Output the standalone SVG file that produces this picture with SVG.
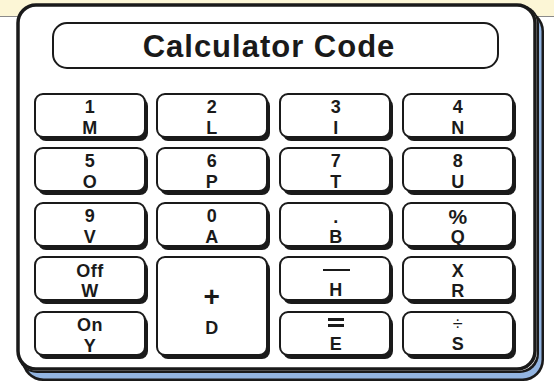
<svg xmlns="http://www.w3.org/2000/svg" width="554" height="383" viewBox="0 0 554 383">
<style>
.ks{fill:#1a1a1a}
.k{fill:#fff;stroke:#1a1a1a;stroke-width:2}
.t{font-family:"Liberation Sans",Arial,sans-serif;font-weight:bold;font-size:18px;letter-spacing:0.5px;fill:#1a1a1a;text-anchor:middle}
.title{font-family:"Liberation Sans",Arial,sans-serif;font-weight:bold;font-size:31px;letter-spacing:1px;fill:#1a1a1a;text-anchor:middle}
</style>
<rect x="0" y="0" width="554" height="383" fill="#fff"/>
<rect x="0" y="0" width="554" height="16" fill="#fcf6d6"/>
<line x1="0" y1="16.5" x2="554" y2="16.5" stroke="#8a8a8a" stroke-width="1"/>
<g id="frame">
<rect x="22" y="10" width="522" height="371" rx="21" fill="#1a1a1a"/>
<rect x="24.5" y="12.5" width="517" height="366" rx="19" fill="#93b5e1"/>
<rect x="18" y="5" width="521" height="368" rx="19" fill="#1a1a1a"/>
<rect x="18" y="5" width="519" height="366" rx="19" fill="#fff"/>
<rect x="18" y="5" width="517" height="364" rx="18" fill="#fff" stroke="#1a1a1a" stroke-width="3.5"/>
</g>
<g id="title">
<rect x="53" y="23" width="445" height="45" rx="14" fill="#fff" stroke="#1a1a1a" stroke-width="2"/>
<text class="title" x="269" y="57">Calculator Code</text>
</g>
<g id="k1"><rect class="ks" x="38" y="98" width="110" height="43" rx="8"/><rect class="k" x="35" y="94" width="110" height="43" rx="8"/><text class="t" x="90" y="113">1</text><text class="t" x="90" y="134">M</text></g>
<g id="k2"><rect class="ks" x="160" y="98" width="110" height="43" rx="8"/><rect class="k" x="157" y="94" width="110" height="43" rx="8"/><text class="t" x="212" y="113">2</text><text class="t" x="212" y="134">L</text></g>
<g id="k3"><rect class="ks" x="283" y="98" width="110" height="43" rx="8"/><rect class="k" x="280" y="94" width="110" height="43" rx="8"/><text class="t" x="336" y="113">3</text><text class="t" x="336" y="134">I</text></g>
<g id="k4"><rect class="ks" x="406" y="98" width="110" height="43" rx="8"/><rect class="k" x="403" y="94" width="110" height="43" rx="8"/><text class="t" x="458" y="113">4</text><text class="t" x="458" y="134">N</text></g>
<g id="k5"><rect class="ks" x="38" y="152" width="110" height="43" rx="8"/><rect class="k" x="35" y="148" width="110" height="43" rx="8"/><text class="t" x="90" y="167">5</text><text class="t" x="90" y="188">O</text></g>
<g id="k6"><rect class="ks" x="160" y="152" width="110" height="43" rx="8"/><rect class="k" x="157" y="148" width="110" height="43" rx="8"/><text class="t" x="212" y="167">6</text><text class="t" x="212" y="188">P</text></g>
<g id="k7"><rect class="ks" x="283" y="152" width="110" height="43" rx="8"/><rect class="k" x="280" y="148" width="110" height="43" rx="8"/><text class="t" x="336" y="167">7</text><text class="t" x="336" y="188">T</text></g>
<g id="k8"><rect class="ks" x="406" y="152" width="110" height="43" rx="8"/><rect class="k" x="403" y="148" width="110" height="43" rx="8"/><text class="t" x="458" y="167">8</text><text class="t" x="458" y="188">U</text></g>
<g id="k9"><rect class="ks" x="38" y="207" width="110" height="43" rx="8"/><rect class="k" x="35" y="203" width="110" height="43" rx="8"/><text class="t" x="90" y="222">9</text><text class="t" x="90" y="243">V</text></g>
<g id="k0"><rect class="ks" x="160" y="207" width="110" height="43" rx="8"/><rect class="k" x="157" y="203" width="110" height="43" rx="8"/><text class="t" x="212" y="222">0</text><text class="t" x="212" y="243">A</text></g>
<g id="kdot"><rect class="ks" x="283" y="207" width="110" height="43" rx="8"/><rect class="k" x="280" y="203" width="110" height="43" rx="8"/><text class="t" x="336" y="223">.</text><text class="t" x="336" y="243">B</text></g>
<g id="kpct"><rect class="ks" x="406" y="207" width="110" height="43" rx="8"/><rect class="k" x="403" y="203" width="110" height="43" rx="8"/><text class="t" x="458" y="224" style="font-size:21px">%</text><text class="t" x="458" y="243">Q</text></g>
<g id="koff"><rect class="ks" x="38" y="261" width="110" height="43" rx="8"/><rect class="k" x="35" y="257" width="110" height="43" rx="8"/><text class="t" x="90" y="277">Off</text><text class="t" x="90" y="297">W</text></g>
<g id="kplus"><rect class="ks" x="160" y="261" width="110" height="98" rx="8"/><rect class="k" x="157" y="257" width="110" height="98" rx="8"/><text class="t" x="212" y="306" style="font-size:28px">+</text><text class="t" x="212" y="334">D</text></g>
<g id="kminus"><rect class="ks" x="283" y="261" width="110" height="43" rx="8"/><rect class="k" x="280" y="257" width="110" height="43" rx="8"/><line x1="323" y1="270" x2="350" y2="270" stroke="#1a1a1a" stroke-width="2"/><text class="t" x="336" y="296">H</text></g>
<g id="ktimes"><rect class="ks" x="406" y="261" width="110" height="43" rx="8"/><rect class="k" x="403" y="257" width="110" height="43" rx="8"/><text class="t" x="458" y="277">X</text><text class="t" x="458" y="297">R</text></g>
<g id="kon"><rect class="ks" x="38" y="316" width="110" height="43" rx="8"/><rect class="k" x="35" y="312" width="110" height="43" rx="8"/><text class="t" x="90" y="331">On</text><text class="t" x="90" y="352">Y</text></g>
<g id="keq"><rect class="ks" x="283" y="316" width="110" height="43" rx="8"/><rect class="k" x="280" y="312" width="110" height="43" rx="8"/><rect x="328" y="318" width="16" height="3" fill="#1a1a1a"/><rect x="328" y="324" width="16" height="3" fill="#1a1a1a"/><text class="t" x="336" y="350">E</text></g>
<g id="kdiv"><rect class="ks" x="406" y="316" width="110" height="43" rx="8"/><rect class="k" x="403" y="312" width="110" height="43" rx="8"/><text class="t" x="458" y="330" style="font-weight:normal;font-size:18px">÷</text><text class="t" x="458" y="350">S</text></g>
</svg>
